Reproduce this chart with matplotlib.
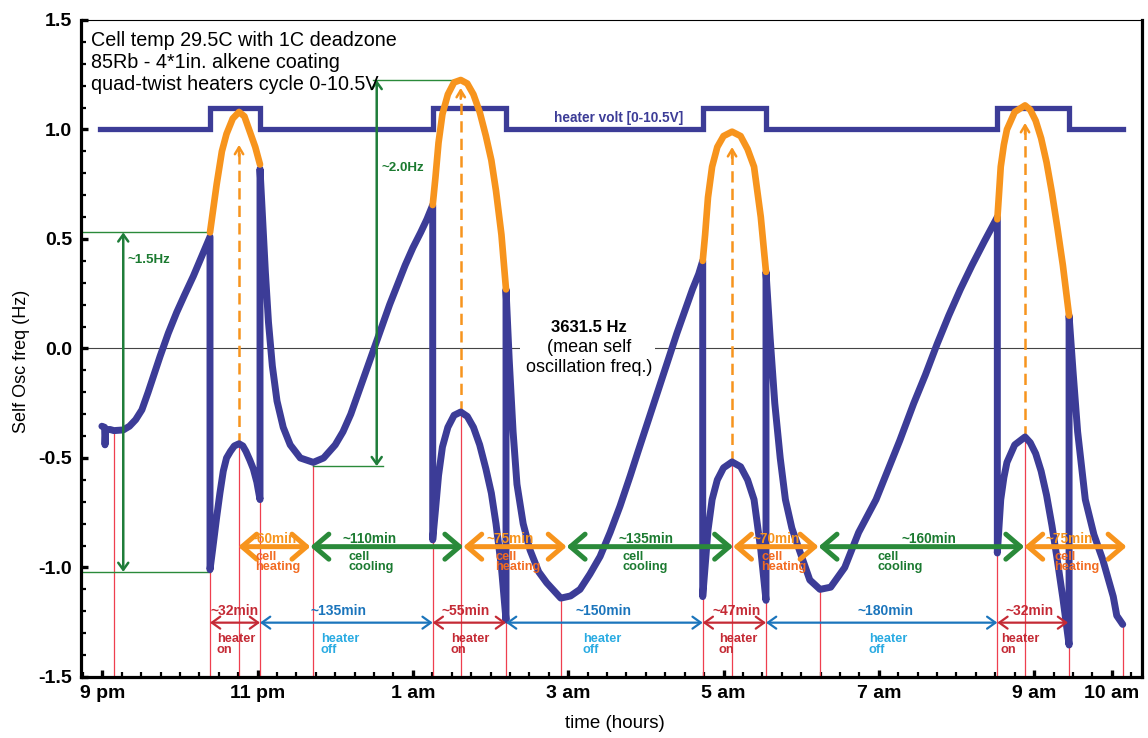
import matplotlib
matplotlib.use("Agg")
import matplotlib.pyplot as plt
from matplotlib.patches import Rectangle
from matplotlib.ticker import FixedLocator, MultipleLocator

plt.rcParams["font.family"] = ["Liberation Sans", "DejaVu Sans"]

# ---------------- data (time in hours after 9 pm, frequency offset in Hz) ----------------
# measured self-oscillation frequency, heater-off / heater-on stretches
pre1_t = [-0.005, 0.03, 0.035, 0.045, 0.10, 0.15, 0.27, 0.35, 0.43, 0.51, 0.59, 0.67, 0.743, 0.85, 0.958,
          1.06, 1.172, 1.28, 1.387]
pre1_f = [-0.355, -0.36, -0.44, -0.37, -0.37, -0.375, -0.372, -0.355, -0.325, -0.28, -0.20, -0.115, -0.037,
          0.07, 0.165, 0.245, 0.33, 0.42, 0.51]
on1_t = [1.387, 1.42, 1.473, 1.515, 1.558, 1.60, 1.65, 1.70, 1.761, 1.81, 1.85, 1.90, 1.945, 1.99, 2.031]
on1_f = [-1.01, -0.92, -0.77, -0.66, -0.56, -0.50, -0.47, -0.445, -0.435, -0.445, -0.47, -0.51, -0.55, -0.61, -0.69]
off1_t = [2.031, 2.06, 2.10, 2.14, 2.19, 2.25, 2.33, 2.42, 2.55, 2.717, 2.85, 3.0, 3.1, 3.2, 3.3, 3.4,
          3.5, 3.6, 3.7, 3.8, 3.9, 4.0, 4.1, 4.18, 4.255]
off1_f = [0.82, 0.62, 0.35, 0.12, -0.08, -0.24, -0.36, -0.44, -0.50, -0.52, -0.50, -0.44, -0.38, -0.30, -0.20,
          -0.10, 0.0, 0.10, 0.20, 0.29, 0.38, 0.46, 0.53, 0.59, 0.655]
on2_t = [4.255, 4.29, 4.33, 4.38, 4.45, 4.53, 4.616, 4.70, 4.78, 4.86, 4.94, 5.01, 5.07, 5.14, 5.199]
on2_f = [-0.874, -0.74, -0.58, -0.45, -0.36, -0.305, -0.29, -0.31, -0.36, -0.44, -0.55, -0.66, -0.80, -1.0, -1.24]
off2_t = [5.199, 5.24, 5.29, 5.34, 5.42, 5.508, 5.62, 5.723, 5.904, 6.03, 6.152, 6.28, 6.41, 6.54, 6.667,
          6.8, 6.9, 7.03, 7.15, 7.28, 7.4, 7.5, 7.6, 7.68, 7.732]
off2_f = [0.27, -0.05, -0.38, -0.62, -0.80, -0.92, -1.02, -1.07, -1.14, -1.13, -1.10, -1.03, -0.95, -0.84, -0.72,
          -0.58, -0.47, -0.33, -0.20, -0.06, 0.07, 0.17, 0.27, 0.34, 0.40]
on3_t = [7.732, 7.763, 7.80, 7.853, 7.92, 8.0, 8.11, 8.22, 8.31, 8.393, 8.48, 8.547]
on3_f = [-1.133, -0.996, -0.83, -0.69, -0.60, -0.545, -0.518, -0.54, -0.60, -0.69, -0.92, -1.15]
off3_t = [8.547, 8.6, 8.66, 8.73, 8.797, 8.88, 8.976, 9.111, 9.243, 9.38, 9.561, 9.74, 9.964, 10.1, 10.27,
          10.45, 10.6, 10.75, 10.9, 11.05, 11.2, 11.36, 11.526]
off3_f = [0.35, 0.05, -0.25, -0.50, -0.69, -0.82, -0.92, -1.057, -1.10, -1.09, -1.0, -0.84, -0.69, -0.57, -0.42,
          -0.25, -0.12, 0.02, 0.15, 0.27, 0.38, 0.49, 0.60]
on4_t = [11.526, 11.55, 11.57, 11.61, 11.65, 11.75, 11.883, 11.95, 12.02, 12.09, 12.16, 12.23, 12.30, 12.37, 12.45]
on4_f = [-0.934, -0.80, -0.69, -0.59, -0.52, -0.44, -0.404, -0.43, -0.48, -0.56, -0.67, -0.81, -0.97, -1.14, -1.354]
off4_t = [12.45, 12.5, 12.56, 12.659, 12.77, 12.885, 13.019, 13.064, 13.141]
off4_f = [0.15, -0.10, -0.38, -0.69, -0.85, -0.966, -1.133, -1.22, -1.26]

# heater-corrected frequency while the heater is powered
hot1_t = [1.387, 1.43, 1.473, 1.54, 1.60, 1.68, 1.761, 1.83, 1.90, 1.97, 2.031]
hot1_f = [0.53, 0.64, 0.75, 0.90, 0.98, 1.05, 1.08, 1.06, 0.99, 0.92, 0.84]
hot2_t = [4.255, 4.29, 4.33, 4.38, 4.45, 4.53, 4.616, 4.70, 4.78, 4.86, 4.94, 5.01, 5.07, 5.14, 5.199]
hot2_f = [0.655, 0.78, 0.94, 1.07, 1.16, 1.215, 1.226, 1.21, 1.16, 1.08, 0.97, 0.86, 0.72, 0.52, 0.27]
hot3_t = [7.732, 7.763, 7.80, 7.853, 7.92, 8.0, 8.11, 8.22, 8.31, 8.393, 8.48, 8.547]
hot3_f = [0.40, 0.52, 0.69, 0.83, 0.92, 0.97, 0.99, 0.97, 0.91, 0.83, 0.60, 0.35]
hot4_t = [11.526, 11.55, 11.57, 11.61, 11.65, 11.75, 11.883, 11.95, 12.02, 12.09, 12.16, 12.23, 12.30, 12.37, 12.45]
hot4_f = [0.59, 0.72, 0.83, 0.93, 1.0, 1.08, 1.11, 1.09, 1.04, 0.96, 0.85, 0.71, 0.55, 0.38, 0.15]

# heater drive (plotted on the frequency scale: 1.0 = off, 1.1 = on)
heater_on_t = [1.387, 4.255, 7.732, 11.526]
heater_off_t = [2.031, 5.199, 8.547, 12.45]
heater_span = [-0.03, 13.14]
heater_low, heater_high = 1.0, 1.1

# red reference markers at the key turning points of the trace
marker_t = [0.151, 1.387, 1.761, 2.031, 2.717, 4.255, 4.616, 5.199, 5.904,
            7.732, 8.11, 8.547, 9.243, 11.526, 11.883, 12.45, 13.141]
marker_f = [-0.375, -1.01, -0.435, -0.69, -0.52, -0.874, -0.29, -1.24, -1.14,
            -1.133, -0.518, -1.15, -1.10, -0.934, -0.404, -1.354, -1.26]

# heater-induced peaks: trace peak and corrected peak
peak_t = [1.761, 4.616, 8.11, 11.883]
peak_low = [-0.435, -0.29, -0.518, -0.404]
peak_tip = [0.93, 1.19, 0.92, 1.03]

# cell heating / cooling phases
cell_edges = [1.751, 2.68, 4.649, 5.98, 8.123, 9.224, 11.873, 13.19]
cell_phase = ["heating", "cooling", "heating", "cooling", "heating", "cooling", "heating"]
cell_minutes = ["~60min", "~110min", "~75min", "~135min", "~70min", "~160min", "~75min"]

# heater on / off phases
heater_edges = [1.387, 2.031, 4.255, 5.199, 7.732, 8.547, 11.526, 12.437]
heater_state = ["on", "off", "on", "off", "on", "off", "on"]
heater_minutes = ["~32min", "~135min", "~55min", "~150min", "~47min", "~180min", "~32min"]

# frequency swings
swing1 = (0.27, -1.02, 0.53)      # x, low, high
swing2 = (3.534, -0.537, 1.226)

tick_hours = [0, 2, 4, 6, 8, 10, 12, 13]
tick_labels = ["9 pm", "11 pm", "1 am", "3 am", "5 am", "7 am", "9 am", "10 am"]

# ---------------- layout: label anchors (hours) ----------------
cell_num_x = [2.199, 3.447, 5.250, 7.002, 8.676, 10.646, 12.449]
cell_sub_x = [2.263, 3.460, 5.353, 6.989, 8.779, 10.273, 12.552]
heat_num_x = [1.709, 3.048, 4.684, 6.448, 8.173, 10.092, 11.947]
heat_sub_x = [1.722, 3.061, 4.735, 6.435, 8.186, 10.118, 11.819]

# ---------------- colours ----------------
TRACE = "#3c3c97"
ORANGE = "#f7941d"
ORANGE_TXT = "#f26b21"
GREEN = "#2a8a3a"
GREEN_TXT = "#1b7a30"
RED = "#c42a35"
RED_LINE = "#ef3f4f"
BLUE = "#1b75bc"
BLUE_TXT = "#29abe2"

XMIN, XMAX = -0.278, 13.385

fig = plt.figure(figsize=(11.48, 7.38), dpi=100)
ax = fig.add_axes([0.0703, 0.0827, 0.9242, 0.8902])
ax.set_xlim(XMIN, XMAX)
ax.set_ylim(-1.5, 1.5)

# zero line with a gap behind the mean-frequency note
ax.axhline(0, color="#444444", lw=0.8, zorder=1)
ax.add_patch(Rectangle((5.38, -0.035), 1.74, 0.07, facecolor="white", edgecolor="none", zorder=1.5))

# red markers
for t, f in zip(marker_t, marker_f):
    ax.plot([t, t], [-1.5, f], color=RED_LINE, lw=0.9, zorder=2)

# heater drive step line
ht, hv = [heater_span[0]], [heater_low]
for t_on, t_off in zip(heater_on_t, heater_off_t):
    ht += [t_on, t_on, t_off, t_off]
    hv += [heater_low, heater_high, heater_high, heater_low]
ht.append(heater_span[1])
hv.append(heater_low)
ax.plot(ht, hv, color=TRACE, lw=3.8, zorder=3, solid_joinstyle="miter")
ax.text(6.654, 1.052, "heater volt [0-10.5V]", color=TRACE, fontsize=9.8,
        fontweight="bold", ha="center", va="center", zorder=4)

# measured trace
trace_t = pre1_t + on1_t + off1_t + on2_t + off2_t + on3_t + off3_t + on4_t + off4_t
trace_f = pre1_f + on1_f + off1_f + on2_f + off2_f + on3_f + off3_f + on4_f + off4_f
ax.plot(trace_t, trace_f, color=TRACE, lw=5, zorder=5, solid_joinstyle="round",
        solid_capstyle="round")

# corrected trace while heating
for tt, ff in [(hot1_t, hot1_f), (hot2_t, hot2_f), (hot3_t, hot3_f), (hot4_t, hot4_f)]:
    ax.plot(tt, ff, color=ORANGE, lw=4.8, zorder=6, solid_capstyle="round",
            solid_joinstyle="round")

# dashed arrows from trace peak to corrected peak
for t, lo, tip in zip(peak_t, peak_low, peak_tip):
    ax.plot([t, t], [lo, tip - 0.02], color=ORANGE, lw=1.8, dashes=(4.5, 2.5), zorder=4)
    ax.annotate("", xy=(t, tip), xytext=(t, tip - 0.05),
                arrowprops=dict(arrowstyle="->,head_length=5,head_width=3", color=ORANGE,
                                lw=1.8, shrinkA=0, shrinkB=0, mutation_scale=1), zorder=4)


def span_arrow(x0, y0, x1, y1, color, lw, hl, hw, z=7):
    ax.annotate("", xy=(x1, y1), xytext=(x0, y0),
                arrowprops=dict(arrowstyle=f"<->,head_length={hl},head_width={hw}",
                                color=color, lw=lw, shrinkA=0, shrinkB=0,
                                mutation_scale=1), zorder=z)


# frequency swing annotations
x, lo, hi = swing1
ax.plot([XMIN, heater_on_t[0]], [hi, hi], color=GREEN, lw=1.0, zorder=2)
ax.plot([XMIN, heater_on_t[0]], [lo, lo], color=GREEN, lw=1.0, zorder=2)
span_arrow(x, lo, x, hi, "#1f7d3a", 1.8, 5, 3.6)
ax.text(0.331, 0.403, "~1.5Hz", color=GREEN_TXT, fontsize=9.6, fontweight="bold",
        ha="left", va="center")

x, lo, hi = swing2
ax.plot([3.486, peak_t[1]], [hi, hi], color=GREEN, lw=1.0, zorder=2)
ax.plot([2.717, 3.615], [lo, lo], color=GREEN, lw=1.0, zorder=2)
span_arrow(x, lo, x, hi, "#1f7d3a", 1.8, 5, 3.6)
ax.text(3.59, 0.823, "~2.0Hz", color=GREEN_TXT, fontsize=9.6, fontweight="bold",
        ha="left", va="center")

# cell heating / cooling arrows
for i, (phase, label) in enumerate(zip(cell_phase, cell_minutes)):
    x0, x1 = cell_edges[i], cell_edges[i + 1]
    if phase == "heating":
        c_arrow, c_num, c_txt = ORANGE, ORANGE, ORANGE_TXT
    else:
        c_arrow, c_num, c_txt = GREEN, GREEN_TXT, GREEN_TXT
    span_arrow(x0, -0.905, x1, -0.905, c_arrow, 3.6, 10.5, 9)
    ax.text(cell_num_x[i], -0.889, label, color=c_num, fontsize=9.8, fontweight="bold",
            ha="center", va="baseline", zorder=8)
    ax.text(cell_sub_x[i], -0.925, "cell\n" + phase, color=c_txt, fontsize=9.2,
            fontweight="bold", ha="center", va="top", multialignment="left",
            linespacing=0.82, zorder=8)

# heater on / off arrows
for i, (state, label) in enumerate(zip(heater_state, heater_minutes)):
    x0, x1 = heater_edges[i], heater_edges[i + 1]
    if state == "on":
        c_arrow, c_num, c_txt = RED, RED, RED
    else:
        c_arrow, c_num, c_txt = BLUE, BLUE, BLUE_TXT
    span_arrow(x0, -1.252, x1, -1.252, c_arrow, 1.6, 6, 4.3)
    ax.text(heat_num_x[i], -1.217, label, color=c_num, fontsize=10, fontweight="bold",
            ha="center", va="baseline", zorder=8)
    ax.text(heat_sub_x[i], -1.30, "heater\n" + state, color=c_txt, fontsize=9.2,
            fontweight="bold", ha="center", va="top", multialignment="left",
            linespacing=0.82, zorder=8)

# mean frequency note
ax.text(6.268, 0.0767, "3631.5 Hz", fontsize=12, fontweight="bold", ha="center",
        va="baseline", zorder=8)
ax.text(6.268, -0.0146, "(mean self", fontsize=13, ha="center", va="baseline", zorder=8)
ax.text(6.268, -0.106, "oscillation freq.)", fontsize=13, ha="center", va="baseline", zorder=8)

# description block
for i, line in enumerate(["Cell temp 29.5C with 1C deadzone",
                          "85Rb - 4*1in. alkene coating",
                          "quad-twist heaters cycle 0-10.5V"]):
    fig.text(90.7 / 1148, 1 - (45.7 + 22.3 * i) / 738, line, fontsize=14.2,
             ha="left", va="baseline")

# axes styling
for side in ["left", "bottom", "right"]:
    ax.spines[side].set_linewidth(2.3)
ax.spines["top"].set_linewidth(0.8)

ax.xaxis.set_major_locator(FixedLocator(tick_hours))
ax.set_xticklabels(tick_labels)
ax.xaxis.set_minor_locator(MultipleLocator(0.25))
ax.yaxis.set_major_locator(MultipleLocator(0.5))
ax.yaxis.set_minor_locator(MultipleLocator(0.1))
ax.set_yticklabels([f"{v:.1f}" for v in ax.get_yticks()])
ax.tick_params(which="both", direction="in", top=False, right=False, color="black")
ax.tick_params(which="major", length=5, width=2.4, pad=6, labelsize=14)
ax.tick_params(which="minor", length=3.5, width=1.6)
for lab in ax.get_xticklabels() + ax.get_yticklabels():
    lab.set_fontweight("bold")

fig.text(22 / 1148, 1 - 361 / 738, "Self Osc freq (Hz)", rotation=90, fontsize=13,
         ha="center", va="center")
fig.text(615 / 1148, 1 - 724 / 738, "time (hours)", fontsize=13.5, ha="center", va="center")

fig.savefig("out.png", dpi=100)
